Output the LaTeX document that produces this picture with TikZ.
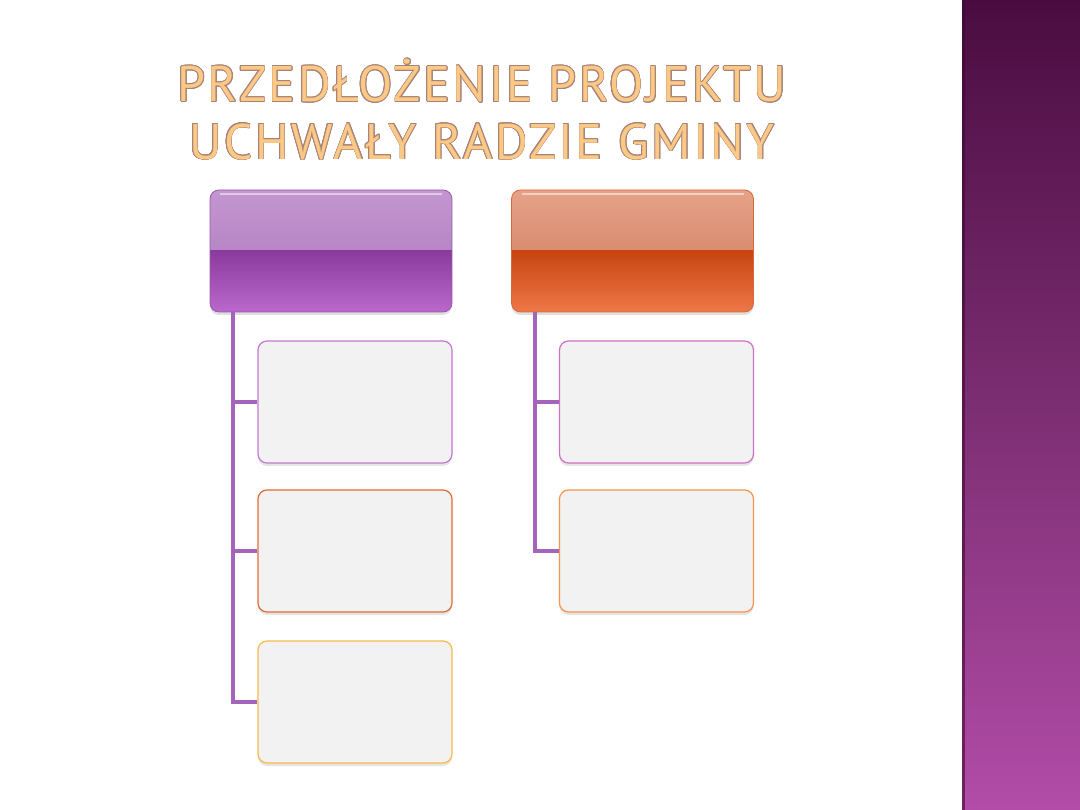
\documentclass[tikz,border=0pt]{standalone}
\usepackage{fontspec}
\usepackage{contour}
\usetikzlibrary{shadows,calc}
\newfontfamily\titlefont[LetterSpace=5]{PT Sans}
\definecolor{titlefill}{HTML}{FBC886}
\definecolor{titleline}{HTML}{A88478}
\definecolor{conn}{HTML}{A464BA}
\definecolor{childfill}{HTML}{F2F2F2}
\definecolor{bandtop}{HTML}{4A0C40}
\definecolor{bandmid}{HTML}{7C2E72}
\definecolor{bandbot}{HTML}{B24CA8}
\definecolor{purA}{HTML}{C496D0}
\definecolor{purB}{HTML}{A876BA}
\definecolor{purC}{HTML}{8A3A9C}
\definecolor{purD}{HTML}{BA68CC}
\definecolor{purEdge}{HTML}{9A58AC}
\definecolor{orgA}{HTML}{E6A288}
\definecolor{orgB}{HTML}{CC7658}
\definecolor{orgC}{HTML}{C84410}
\definecolor{orgD}{HTML}{EE7848}
\definecolor{orgEdge}{HTML}{D8683C}
\definecolor{edgeOne}{HTML}{C27AD0}
\definecolor{edgeTwo}{HTML}{E46A36}
\definecolor{edgeThree}{HTML}{F8BA48}
\definecolor{edgeFour}{HTML}{D070C4}
\definecolor{edgeFive}{HTML}{F8944A}
\contourlength{0.7pt}
\tikzset{
  topbox/.style n args={5}{rounded corners=9pt, minimum width=242pt, minimum height=122pt,
    inner sep=0pt, draw=#5, line width=0.8pt,
    drop shadow={shadow xshift=0pt, shadow yshift=-3pt, opacity=0.25},
    path picture={
      \shade[sharp corners, top color=#1, bottom color=#2]
        (path picture bounding box.north west) rectangle (path picture bounding box.east);
      \shade[sharp corners, top color=#3, bottom color=#4]
        (path picture bounding box.west) rectangle (path picture bounding box.south east);
      \draw[sharp corners, white, opacity=0.5, line width=1.5pt]
        ($(path picture bounding box.north west)+(10,4)$) -- ($(path picture bounding box.north east)+(-10,4)$);
    }},
  childbox/.style={rounded corners=9pt, minimum width=194pt, minimum height=122pt,
    inner sep=0pt, fill=childfill, draw=#1, line width=1.2pt,
    drop shadow={shadow xshift=0pt, shadow yshift=-3pt, opacity=0.2}},
  connector/.style={draw=conn, line width=4pt},
  titletext/.style={font=\titlefont\fontsize{50}{52}\selectfont, text=titlefill, inner sep=0pt}
}
\begin{document}
\begin{tikzpicture}[x=1pt,y=-1pt]
\useasboundingbox (0,0) rectangle (1080,810);
\fill[white] (0,0) rectangle (1080,810);
% right band
\shade[top color=bandtop, bottom color=bandmid] (962,0) rectangle (1080,405.5);
\shade[top color=bandmid, bottom color=bandbot] (962,405) rectangle (1080,810);
\fill[bandtop!80!black, opacity=0.6] (962,0) rectangle (965,810);
% title
\node[titletext] (t1) at (482,81) {\contour{titleline}{PRZEDŁOŻENIE PROJEKTU}};
\node[titletext] (t2) at (482,142) {\contour{titleline}{UCHWAŁY RADZIE GMINY}};
% top boxes
\node[topbox={purA}{purB}{purC}{purD}{purEdge}] (p) at (331,251) {};
\node[topbox={orgA}{orgB}{orgC}{orgD}{orgEdge}] (o) at (632.5,251) {};
% child boxes
\node[childbox=edgeOne]   (p1) at (355,402) {};
\node[childbox=edgeTwo]   (p2) at (355,551) {};
\node[childbox=edgeThree] (p3) at (355,702) {};
\node[childbox=edgeFour]  (o1) at (656.5,402) {};
\node[childbox=edgeFive]  (o2) at (656.5,551) {};
% connectors
\coordinate (pj) at ($(p.south west)+(23,0)$);
\coordinate (oj) at ($(o.south west)+(24,0)$);
\draw[connector, line join=miter] (pj) |- (p3.west);
\draw[connector] (pj |- p1.west) -- (p1.west);
\draw[connector] (pj |- p2.west) -- (p2.west);
\draw[connector, line join=miter] (oj) |- (o2.west);
\draw[connector] (oj |- o1.west) -- (o1.west);
\end{tikzpicture}
\end{document}
